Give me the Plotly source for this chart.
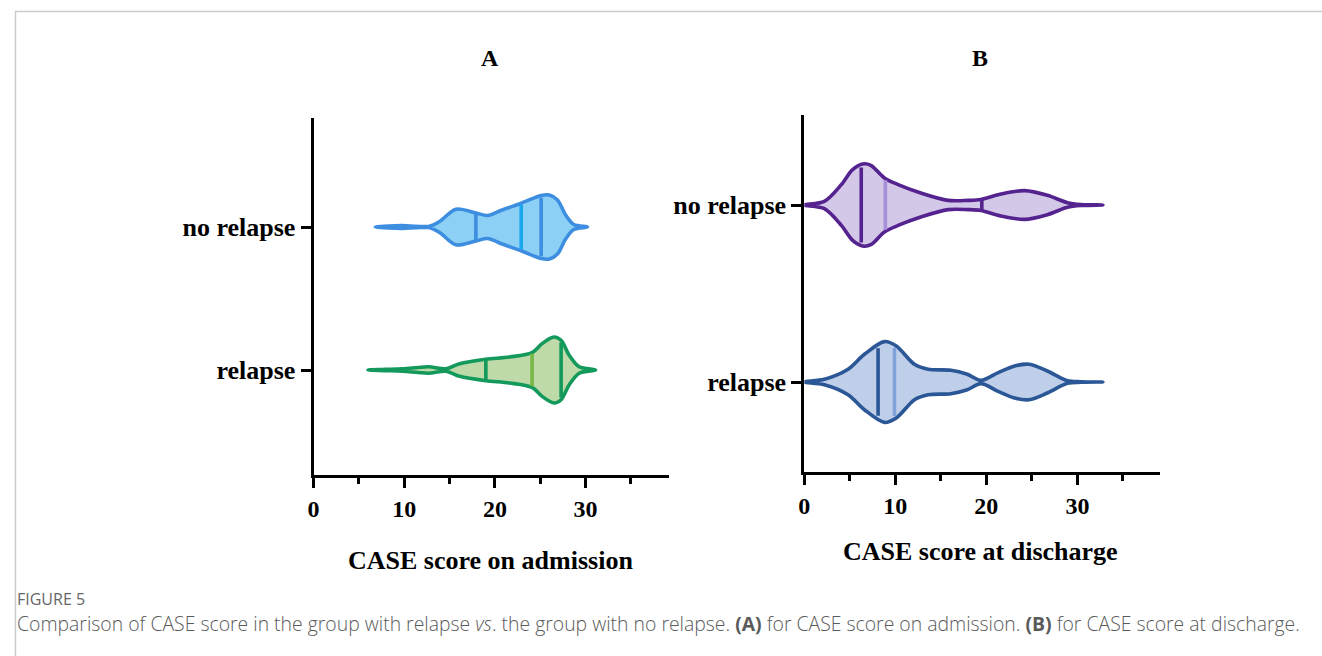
import numpy as np
import plotly.graph_objects as go

W, H = 1322, 656

# ---------------- data ----------------
categories = ["relapse", "no relapse"]
x_ticks = [0, 10, 20, 30]

# Panel A: CASE score on admission -- density outline (score, relative half-width)
A_norel_x = [6.8, 8.3, 9.8, 11.3, 12.7, 13.9, 15.7, 17.9, 19.2, 20.8, 22.9, 25.1, 26.0, 26.9, 27.8, 28.7, 30.2]
A_norel_d = [0, 1.0, 1.4, 0.8, 0.6, 5.5, 17.8, 14.0, 11.5, 17.0, 23.8, 31.5, 32.0, 27.0, 12.0, 2.5, 0]
A_norel_q = [17.9, 22.9, 25.1]

A_rel_x = [6.0, 8.0, 9.8, 11.5, 12.7, 14.6, 16.1, 19.0, 21.6, 24.1, 25.2, 26.5, 27.3, 28.2, 29.3, 31.1]
A_rel_d = [0, 0.6, 1.2, 2.5, 3.3, 1.2, 6.3, 10.7, 13.0, 17.4, 26.4, 33.0, 29.7, 14.7, 3.2, 0]
A_rel_q = [19.0, 24.1, 27.3]

# Panel B: CASE score at discharge
B_norel_x = [0, 2.2, 4.06, 5.3, 6.4, 7.3, 8.8, 10.3, 12.8, 15.8, 18.0, 19.4, 21.6, 24.2, 26.7, 28.9, 30.4, 32.8]
B_norel_d = [0, 3.7, 20.4, 35.4, 41.0, 39.7, 27.0, 20.4, 12.0, 4.6, 4.6, 5.5, 11.0, 14.4, 9.7, 2.3, 0.5, 0]
B_norel_q = [6.25, 8.9, 19.5]

B_rel_x = [0, 2.2, 4.8, 6.6, 8.8, 10.1, 12.1, 13.6, 16.1, 17.9, 19.4, 21.3, 23.1, 24.7, 26.7, 28.9, 30.4, 32.8]
B_rel_d = [0, 2.7, 12.7, 27.7, 40.4, 36.0, 17.7, 12.7, 11.7, 7.7, 1.6, 9.4, 16.0, 17.7, 11.0, 1.3, 0.3, 0]
B_rel_q = [8.1, 9.9, 19.35]

# ---------------- styling ----------------
SERIF = "Liberation Serif"
styles = {
    "A_norel": dict(line="#3d8de0", fill="#8dd0f5", med="#19a7ee"),
    "A_rel": dict(line="#12995b", fill="#bddaa8", med="#78b646"),
    "B_norel": dict(line="#55238f", fill="#d3c8e8", med="#a58fd8"),
    "B_rel": dict(line="#2b5797", fill="#bfcfea", med="#7fa3d8"),
}
LW = 3.6

fig = go.Figure()


def add_violin(xs, ds, qs, ypos, scale, st, xa, ya):
    xs = np.asarray(xs, float)
    hw = np.asarray(ds, float) / scale
    top = ypos + hw
    bot = ypos - hw
    px = list(xs) + list(xs[-2:0:-1])
    py = list(top) + list(bot[-2:0:-1])
    px.append(px[0]); py.append(py[0])
    fig.add_trace(go.Scatter(
        x=px, y=py, mode="lines", fill="toself", fillcolor=st["fill"],
        line=dict(color=st["line"], width=LW, shape="spline", smoothing=0.9),
        xaxis=xa, yaxis=ya, showlegend=False, hoverinfo="skip"))
    for i, q in enumerate(qs):
        h = np.interp(q, xs, hw) * 0.93
        fig.add_trace(go.Scatter(
            x=[q, q], y=[ypos - h, ypos + h], mode="lines",
            line=dict(color=st["med"] if i == 1 else st["line"], width=LW),
            xaxis=xa, yaxis=ya, showlegend=False, hoverinfo="skip"))


# Panel A: 143 px per category unit ; Panel B: 177 px per category unit
add_violin(A_norel_x, A_norel_d, A_norel_q, 1, 143.0, styles["A_norel"], "x", "y")
add_violin(A_rel_x, A_rel_d, A_rel_q, 0, 143.0, styles["A_rel"], "x", "y")
add_violin(B_norel_x, B_norel_d, B_norel_q, 1, 177.0, styles["B_norel"], "x2", "y2")
add_violin(B_rel_x, B_rel_d, B_rel_q, 0, 177.0, styles["B_rel"], "x2", "y2")

tickfont = dict(family=SERIF, size=24, color="black", weight="bold")
labfont = dict(family=SERIF, size=26, color="black", weight="bold")


def xaxis_cfg(x0, x1, xmax):
    return dict(domain=[x0 / W, x1 / W], range=[0, xmax], showline=True, linecolor="black",
                linewidth=3, ticks="outside", ticklen=10, tickwidth=3, tickcolor="black",
                tickvals=x_ticks, tickfont=tickfont, showgrid=False, zeroline=False,
                minor=dict(dtick=5, tick0=0, ticks="outside", ticklen=6, tickwidth=3,
                           tickcolor="black", showgrid=False),
                fixedrange=True)


def yaxis_cfg(y0, y1, rng, anchor):
    return dict(domain=[1 - y1 / H, 1 - y0 / H], range=rng, showline=True, linecolor="black",
                linewidth=3, ticks="outside", ticklen=10, tickwidth=3, tickcolor="black",
                tickvals=[0, 1], ticktext=categories, tickfont=labfont, showgrid=False,
                zeroline=False, anchor=anchor, fixedrange=True)


fig.update_layout(
    width=W, height=H, margin=dict(l=0, r=0, t=0, b=0),
    paper_bgcolor="white", plot_bgcolor="white",
    xaxis=xaxis_cfg(309, 666, 39.2),
    yaxis=yaxis_cfg(118, 475, [-(475 - 370) / 143, (370 - 118) / 143], "x"),
    xaxis2=dict(xaxis_cfg(802, 1159, 39.05), anchor="y2"),
    yaxis2=yaxis_cfg(115, 472, [-(472 - 382) / 177, (382 - 115) / 177], "x2"),
)
fig.layout.xaxis.anchor = "y"

annos = [
    dict(text="A", x=486, y=58, font=dict(family=SERIF, size=24, color="black", weight="bold")),
    dict(text="B", x=978, y=58, font=dict(family=SERIF, size=24, color="black", weight="bold")),
    dict(text="CASE score on admission", x=487, y=560, font=labfont),
    dict(text="CASE score at discharge", x=979, y=551, font=labfont),
]
for a in annos:
    fig.add_annotation(text=a["text"], x=a["x"] / W, y=1 - a["y"] / H, xref="paper", yref="paper",
                       xanchor="center", yanchor="middle", showarrow=False, font=a["font"])

fig.add_annotation(text="FIGURE 5", x=9 / W, y=1 - 599 / H, xref="paper", yref="paper",
                   xanchor="left", yanchor="middle", showarrow=False,
                   font=dict(family="Open Sans", size=16, color="#666666"))
fig.add_annotation(
    text="Comparison of CASE score in the group with relapse <i>vs</i>. the group with no relapse. "
         "<b>(A)</b> for CASE score on admission. <b>(B)</b> for CASE score at discharge.",
    x=9 / W, y=1 - 623 / H, xref="paper", yref="paper", xanchor="left", yanchor="middle",
    showarrow=False, font=dict(family="Open Sans", size=19.4, color="#5a5a5a", weight=300))

# page frame lines
fig.add_shape(type="line", xref="paper", yref="paper", x0=9 / W, x1=1, y0=1 - 11.5 / H, y1=1 - 11.5 / H,
              line=dict(color="#cccccc", width=1.5))
fig.add_shape(type="line", xref="paper", yref="paper", x0=9.5 / W, x1=9.5 / W, y0=1 - 11.5 / H, y1=0,
              line=dict(color="#cccccc", width=1.5))

fig.write_html("out.html")
